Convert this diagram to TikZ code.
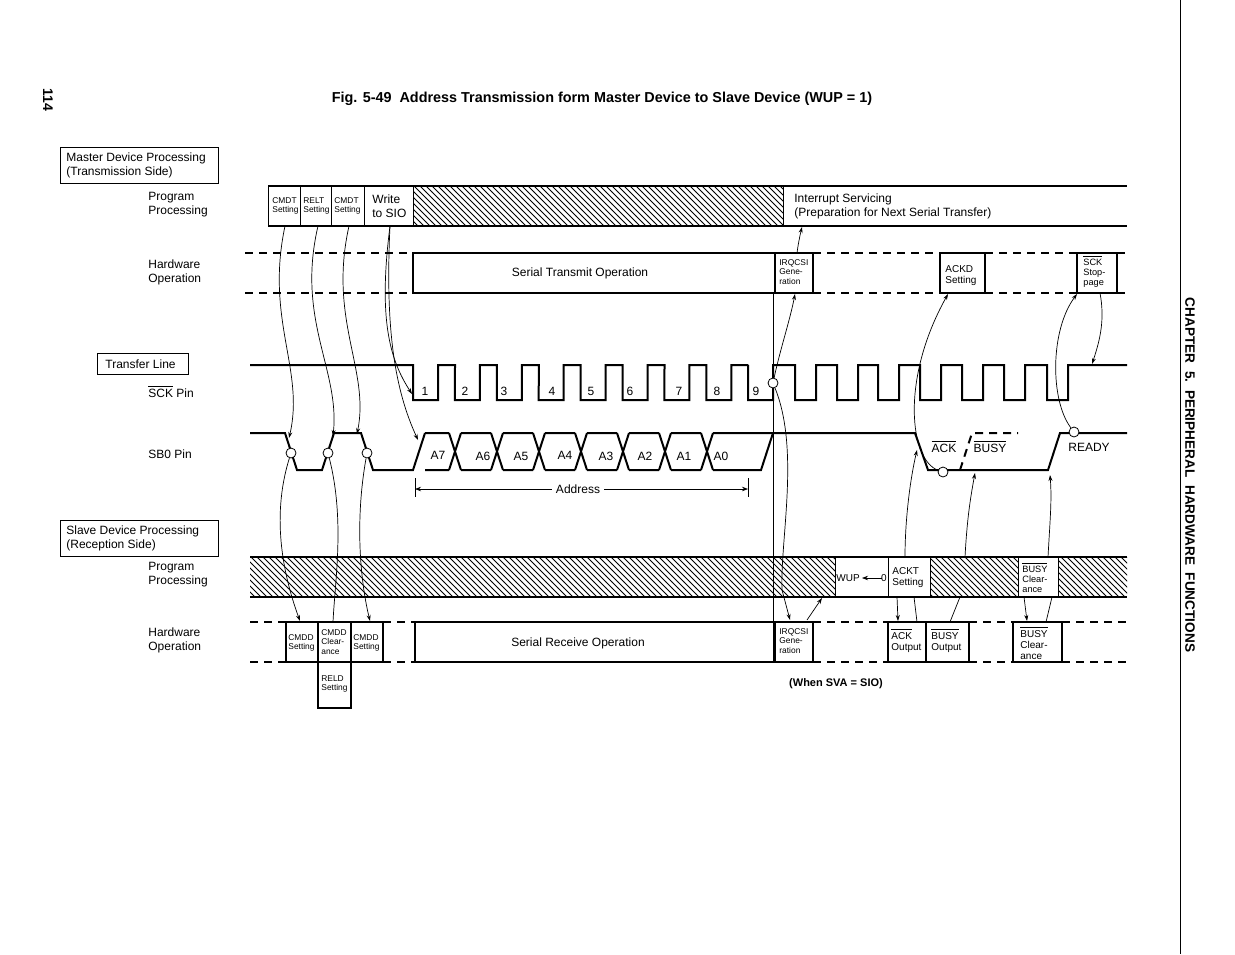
\documentclass[tikz,border=0pt]{standalone}
\usepackage{fontspec}
\setmainfont{Liberation Sans}
\usetikzlibrary{patterns,arrows.meta}
\newcommand{\nf}{\fontsize{6}{7}\selectfont}
\newcommand{\smf}{\fontsize{4.2}{4.8}\selectfont}
\newcommand{\ob}[1]{$\overline{\mbox{#1}}$}
\begin{document}
\begin{tikzpicture}[x=0.5pt,y=-0.5pt,
  tk/.style={line width=1pt},
  tn/.style={line width=0.5pt},
  dline/.style={line width=1pt,dash pattern=on 4pt off 3pt},
  hatch/.style={pattern=north west lines},
  lbl/.style={font=\nf,align=left,anchor=west,inner sep=0},
  sm/.style={font=\smf,align=left,anchor=north west,inner sep=0.5pt},
  arr/.style={line width=0.35pt,-{Stealth[length=3pt,width=2pt]}},
  ln/.style={line width=0.35pt},
  circ/.style={circle,draw,line width=0.4pt,fill=white,inner sep=0,minimum size=5pt}]
\useasboundingbox (0,0) rectangle (1235,954);
\draw[tn] (1180,0) -- (1180,954);
\node[font=\bfseries\fontsize{7.2}{8}\selectfont] (title) at (602,99) {Fig. 5-49\ \ Address Transmission form Master Device to Slave Device (WUP = 1)};
\node[font=\bfseries\fontsize{7}{8}\selectfont,rotate=-90] (pg) at (48,100) {114};
\node[font=\bfseries\fontsize{6.8}{8}\selectfont,rotate=-90] (chap) at (1190,475) {CHAPTER\ \ 5.\ \ PERIPHERAL\ \ HARDWARE\ \ FUNCTIONS};
% left labels
\draw[tn] (60,147) rectangle (218,183);
\node[lbl] (mdp) at (66,165) {Master Device Processing\\(Transmission Side)};
\node[lbl] (pp1) at (148,205) {Program\\Processing};
\node[lbl] (hw1) at (148,272) {Hardware\\Operation};
\draw[tn] (97,353) rectangle (188,374);
\node[lbl] (tl) at (105,364) {Transfer Line};
\node[lbl] (sckp) at (148,391) {\ob{SCK} Pin};
\node[lbl] (sbp) at (148,454) {SB0 Pin};
\draw[tn] (60,520) rectangle (218,556);
\node[lbl] (sdp) at (66,538) {Slave Device Processing\\(Reception Side)};
\node[lbl] (pp2) at (148,575) {Program\\Processing};
\node[lbl] (hw2) at (148,640) {Hardware\\Operation};
% master program row
\fill[hatch] (413,186) rectangle (783,226);
\draw[tk] (268,186) -- (1127,186) (268,226) -- (1127,226);
\draw[tn] (268,186)--(268,226) (300,186)--(300,226) (331,186)--(331,226) (364,186)--(364,226) (413,186)--(413,226) (783,186)--(783,226);
\node[sm] at (271,196) {CMDT\\Setting};
\node[sm] at (302,196) {RELT\\Setting};
\node[sm] at (333,196) {CMDT\\Setting};
\node[lbl] at (372,206) {Write\\to SIO};
\node[lbl] at (794,206) {Interrupt Servicing\\(Preparation for Next Serial Transfer)};
% master hardware row
\draw[dline] (245,253)--(413,253) (245,293)--(413,293);
\draw[tk] (413,253) rectangle (775,293);
\draw[tk] (775,253) rectangle (813,293);
\draw[dline] (813,253)--(940,253) (813,293)--(940,293);
\draw[tk] (940,253) rectangle (985,293);
\draw[dline] (985,253)--(1077,253) (985,293)--(1077,293);
\draw[tk] (1077,253) rectangle (1117,293);
\draw[dline] (1117,253)--(1127,253) (1117,293)--(1127,293);
\node[font=\nf] at (580,273) {Serial Transmit Operation};
\node[sm] at (778,258) {IRQCSI\\Gene-\\ration};
\node[sm,font=\fontsize{5}{5.5}\selectfont] at (944,264) {ACKD\\Setting};
\node[sm,font=\fontsize{4.6}{5}\selectfont] at (1082,254) {\ob{SCK}\\Stop-\\page};
% vertical line
\draw[tn] (773,293) -- (773,662);
% SCK waveform
\draw[tk] (250,365) -- (413,365)
  \foreach \k in {0,...,7} { -- ({413+41.9*\k},400) -- ({438+41.9*\k},400) -- ({438+41.9*\k},365) -- ({455+41.9*\k},365) -- ({455+41.9*\k},365)}
  -- (748,365) -- (748,400) -- (773,400) -- (773,365)
  \foreach \x in {795,837,878,920,962,1004} { -- (\x,365) -- (\x,400) -- ({\x+21},400) -- ({\x+21},365)}
  -- (1047,365) -- (1047,400) -- (1068,400) -- (1068,365) -- (1127,365);
\foreach \n/\x in {1/425,2/465,3/504,4/552,5/591,6/630,7/679,8/717,9/756} \node[font=\nf] at (\x,391) {\n};
% SB0 waveform
\draw[tk] (250,433) -- (285,433) -- (297,470) -- (322,470) -- (334,433) -- (361,433) -- (373,470) -- (413,470) -- (425,433);
\foreach \b in {455,497,539,581,623,665,707} {\draw[tk] ({\b-6},433) -- ({\b+6},470) ({\b-6},470) -- ({\b+6},433);}
\draw[tk] (425,433) -- (449,433) (461,433)--(491,433) (503,433)--(533,433) (545,433)--(575,433) (587,433)--(617,433) (629,433)--(659,433) (671,433)--(701,433) (713,433)--(915,433) -- (928,470) -- (1048,470) -- (1060,433) -- (1127,433);
\draw[tk] (425,470) -- (449,470) (461,470)--(491,470) (503,470)--(533,470) (545,470)--(575,470) (587,470)--(617,470) (629,470)--(659,470) (671,470)--(701,470) (713,470)--(761,470) -- (773,433);
\draw[dline] (960,470) -- (972,433) -- (1018,433);
\foreach \l/\x/\y in {A7/438/455,A6/483/456,A5/521/456,A4/565/455,A3/606/456,A2/645/456,A1/684/456,A0/721/456} \node[font=\nf] at (\x,\y) {\l};
\node[font=\nf] at (944,446) {\ob{ACK}};
\node[font=\nf] at (990,446) {\ob{BUSY}};
\node[font=\nf] at (1089,447) {READY};
% address arrow
\draw[tn] (415,478)--(415,497) (748,478)--(748,497);
\draw[ln,{Stealth[length=3pt]}-{Stealth[length=3pt]}] (415,489) -- (748,489);
\node[font=\nf,fill=white,inner sep=2pt] (addr) at (578,489) {Address};
% slave program row
\fill[hatch] (250,557) rectangle (835,597);
\fill[hatch] (930,557) rectangle (1018,597);
\fill[hatch] (1058,557) rectangle (1127,597);
\draw[tk] (250,557) -- (1127,557) (250,597) -- (1127,597);
\draw[tn] (835,557)--(835,597) (888,557)--(888,597) (930,557)--(930,597) (1018,557)--(1018,597) (1058,557)--(1058,597);
\node[font=\fontsize{5}{6}\selectfont,inner sep=0] (wup) at (848,578) {WUP};
\draw[ln,-{Stealth[length=3pt]}] (882,578) -- (862,578);
\node[font=\fontsize{5}{6}\selectfont,inner sep=0] (zero) at (884,578) {0};
\node[sm,font=\fontsize{5}{5.5}\selectfont] at (891,566) {ACKT\\Setting};
\node[sm,font=\fontsize{4.6}{5}\selectfont] at (1021,561) {\ob{BUSY}\\Clear-\\ance};
% slave hardware row
\draw[dline] (250,622)--(286,622) (250,662)--(286,662);
\draw[tk] (286,622) rectangle (318,662);
\draw[tk] (318,622) rectangle (351,662);
\draw[tk] (351,622) rectangle (383,662);
\draw[tk] (318,662) rectangle (351,708);
\draw[dline] (383,622)--(415,622) (383,662)--(415,662);
\draw[tk] (415,622) rectangle (775,662);
\draw[tk] (775,622) rectangle (813,662);
\draw[dline] (813,622)--(888,622) (813,662)--(888,662);
\draw[tk] (888,622) rectangle (926,662);
\draw[tk] (926,622) rectangle (969,662);
\draw[dline] (969,622)--(1013,622) (969,662)--(1013,662);
\draw[tk] (1013,622) rectangle (1062,662);
\draw[dline] (1062,622)--(1127,622) (1062,662)--(1127,662);
\node[sm] at (287,633) {CMDD\\Setting};
\node[sm] at (320,628) {CMDD\\Clear-\\ance};
\node[sm] at (352,633) {CMDD\\Setting};
\node[sm] at (320,674) {RELD\\Setting};
\node[font=\nf] at (578,643) {Serial Receive Operation};
\node[sm] at (778,627) {IRQCSI\\Gene-\\ration};
\node[sm,font=\fontsize{5}{5.5}\selectfont] at (890,627) {\ob{ACK}\\Output};
\node[sm,font=\fontsize{5}{5.5}\selectfont] at (930,627) {\ob{BUSY}\\Output};
\node[sm,font=\fontsize{5}{5.5}\selectfont] at (1019,625) {\ob{BUSY}\\Clear-\\ance};
\node[font=\bfseries\fontsize{5.5}{6}\selectfont] (sva) at (836,684) {(When SVA = SIO)};
% circles
\node[circ] (c1) at (291,453) {};
\node[circ] (c2) at (328,453) {};
\node[circ] (c3) at (367,453) {};
\node[circ] (c9) at (773,383) {};
\node[circ] (cack) at (943,472) {};
\node[circ] (crdy) at (1074,432) {};
% arrows master -> lines
\draw[arr] (285,226) .. controls (265,320) and (305,370) .. (289,438);
\draw[arr] (318,226) .. controls (296,320) and (340,370) .. (333,436);
\draw[arr] (349,226) .. controls (328,320) and (370,370) .. (357,434);
\draw[arr] (390,226) .. controls (378,320) and (390,360) .. (412,394);
\draw[arr] (390,226) .. controls (385,330) and (395,390) .. (418,440);
% SB0 circles -> slave hardware
\draw[arr] (c1) .. controls (270,520) and (285,580) .. (300,621);
\draw[ln] (c2) .. controls (345,520) and (335,580) .. (333,622);
\draw[arr] (c3) .. controls (355,520) and (360,580) .. (370,621);
% IRQCSI
\draw[arr] (c9) .. controls (780,350) and (790,320) .. (795,294);
\draw[arr] (797,253) .. controls (798,245) and (800,235) .. (802,227);
\draw[ln] (c9) .. controls (800,450) and (780,540) .. (782,590);
\draw[arr] (782,590) -- (790,620);
\draw[arr] (807,620) -- (822,598);
% ACK stuff
\draw[arr] (905,557) .. controls (905,520) and (910,480) .. (917,450);
\draw[arr] (cack) .. controls (910,460) and (900,380) .. (948,294);
\draw[arr] (897,597) -- (898,621);
\draw[ln] (914,597) -- (917,622);
\draw[ln] (950,622) -- (960,597);
\draw[arr] (965,557) .. controls (967,520) and (970,500) .. (975,473);
\draw[arr] (1048,557) .. controls (1050,520) and (1052,500) .. (1050,475);
\draw[arr] (1024,597) -- (1027,621);
\draw[ln] (1046,622) -- (1052,597);
% READY / SCK stoppage
\draw[arr] (crdy) .. controls (1050,400) and (1050,330) .. (1077,294);
\draw[arr] (1100,293) .. controls (1105,320) and (1100,340) .. (1092,364);
\end{tikzpicture}
\end{document}
